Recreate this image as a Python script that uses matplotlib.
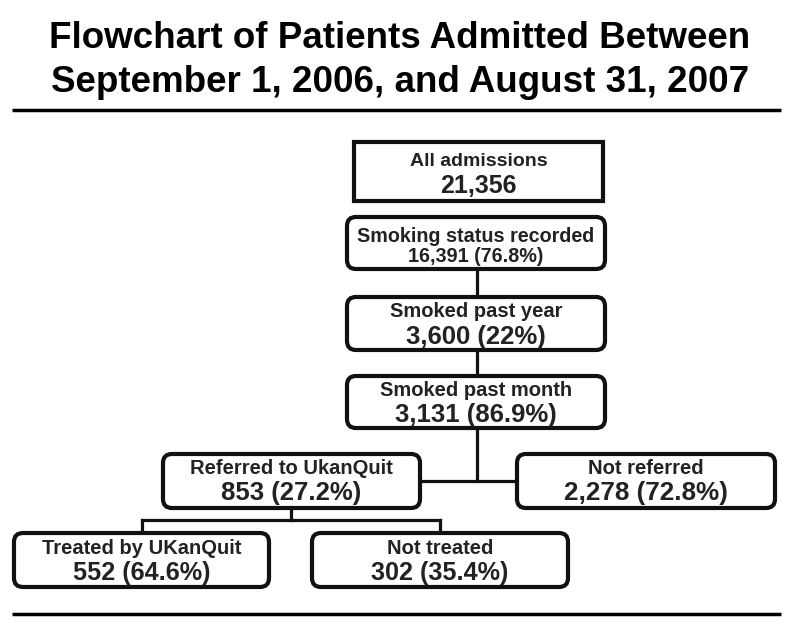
import matplotlib
matplotlib.use("Agg")
import matplotlib.pyplot as plt
from matplotlib.patches import FancyBboxPatch, Rectangle

title_lines = ["Flowchart of Patients Admitted Between", "September 1, 2006, and August 31, 2007"]

labels = ["All admissions", "Smoking status recorded", "Smoked past year", "Smoked past month",
          "Referred to UkanQuit", "Not referred", "Treated by UKanQuit", "Not treated"]
counts = ["21,356", "16,391", "3,600", "3,131", "853", "2,278", "552", "302"]
percents = [None, "76.8%", "22%", "86.9%", "27.2%", "72.8%", "64.6%", "35.4%"]

# layout (pixel coordinates, y down): x0, x1, y0, y1
boxes = [(354, 603, 142, 201), (347, 605, 217, 269), (347, 605, 297, 350), (347, 605, 376, 428),
         (163, 420, 454, 508), (517, 775, 454, 508), (14, 269, 533, 587), (312, 568, 533, 587)]
off1 = [20, 19, 14.5, 14.5, 15, 15, 15, 15]
off2 = [44, 40, 40, 39, 39, 39, 40, 40]
fs1 = [14, 14.2, 14.5, 14.5, 14.5, 14.5, 14.5, 14.5]
fs2 = [18, 14.2, 18.5, 18.5, 18.5, 18.8, 18.2, 18.2]

fig = plt.figure(figsize=(8, 6.3), dpi=100)
ax = fig.add_axes([0, 0, 1, 1])
ax.set_xlim(0, 800)
ax.set_ylim(630, 0)
ax.axis("off")

tfam = ["Liberation Sans Narrow", "Liberation Sans", "DejaVu Sans"]
bfam = ["Liberation Sans", "DejaVu Sans"]
ax.text(400, 38, title_lines[0], ha="center", va="center", fontsize=26.5, fontweight="bold", family=tfam)
ax.text(400, 83, title_lines[1], ha="center", va="center", fontsize=26.5, fontweight="bold", family=tfam)

ax.plot([12, 781], [110, 110], color="black", lw=2.5, solid_capstyle="butt")
ax.plot([12, 781], [614, 614], color="black", lw=2.5, solid_capstyle="butt")

lw_line = 2.3
c = "#111"
# connectors
ax.plot([477, 477], [269, 297], color=c, lw=lw_line)
ax.plot([477, 477], [350, 376], color=c, lw=lw_line)
ax.plot([477, 477], [428, 481], color=c, lw=lw_line)
ax.plot([420, 517], [481, 481], color=c, lw=lw_line)
ax.plot([291, 291], [508, 520], color=c, lw=lw_line)
ax.plot([142, 440], [520, 520], color=c, lw=lw_line, solid_capstyle="projecting")
ax.plot([142, 142], [520, 533], color=c, lw=lw_line)
ax.plot([440, 440], [520, 533], color=c, lw=lw_line)

for i, (x0, x1, y0, y1) in enumerate(boxes):
    if i == 0:
        p = Rectangle((x0, y0), x1 - x0, y1 - y0, fc="white", ec=c, lw=3, zorder=3)
    else:
        p = FancyBboxPatch((x0, y0), x1 - x0, y1 - y0, boxstyle="round,pad=0,rounding_size=9",
                           fc="white", ec=c, lw=3, zorder=3)
    ax.add_patch(p)
    cx = (x0 + x1) / 2
    l2 = counts[i] if percents[i] is None else f"{counts[i]} ({percents[i]})"
    ax.text(cx, y0 + off1[i], labels[i], ha="center", va="center", fontsize=fs1[i],
            fontweight="bold", family=bfam, color="#222", zorder=4)
    ax.text(cx, y0 + off2[i], l2, ha="center", va="center", fontsize=fs2[i],
            fontweight="bold", family=bfam, color="#222", zorder=4)

fig.savefig("out.png", dpi=100, facecolor="white")
